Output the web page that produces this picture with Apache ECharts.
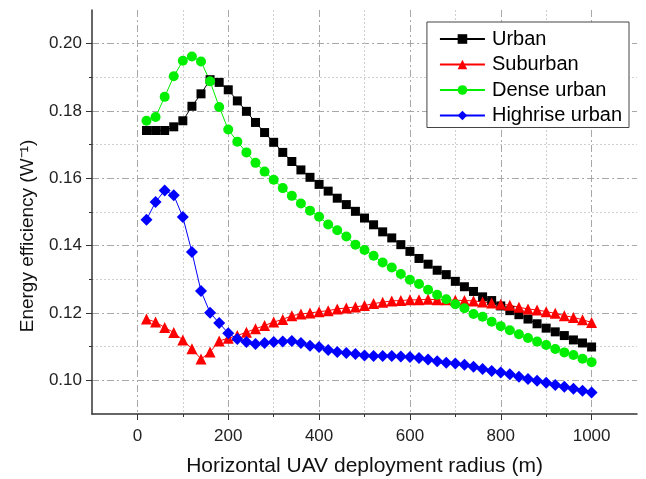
<!DOCTYPE html>
<html>
<head>
<meta charset="utf-8">
<script src="https://cdn.jsdelivr.net/npm/echarts@6/dist/echarts.min.js"></script>
<style>
  html, body { margin: 0; padding: 0; background: #fff; }
  #main { width: 646px; height: 479px; }
</style>
</head>
<body>
<div id="main"></div>
<script>
// x: horizontal UAV deployment radius (m), 20..1000 step 20
var radius = [20, 40, 60, 80, 100, 120, 140, 160, 180, 200,
  220, 240, 260, 280, 300, 320, 340, 360, 380, 400,
  420, 440, 460, 480, 500, 520, 540, 560, 580, 600,
  620, 640, 660, 680, 700, 720, 740, 760, 780, 800,
  820, 840, 860, 880, 900, 920, 940, 960, 980, 1000];

var urban = [0.1742, 0.1742, 0.1742, 0.1753, 0.1771, 0.1814, 0.1851, 0.1893, 0.1885, 0.1863,
  0.1830, 0.1799, 0.1766, 0.1736, 0.1707, 0.1677, 0.1650, 0.1625, 0.1603, 0.1582,
  0.1562, 0.1541, 0.1522, 0.1502, 0.1482, 0.1462, 0.1441, 0.1423, 0.1403, 0.1383,
  0.1362, 0.1345, 0.1327, 0.1314, 0.1294, 0.1278, 0.1264, 0.1248, 0.1237, 0.1221,
  0.1207, 0.1195, 0.1182, 0.1168, 0.1155, 0.1144, 0.1133, 0.1120, 0.1111, 0.1099];

var suburban = [0.1182, 0.1173, 0.1157, 0.1142, 0.1120, 0.1094, 0.1063, 0.1084, 0.1117, 0.1125,
  0.1133, 0.1143, 0.1153, 0.1163, 0.1173, 0.1181, 0.1192, 0.1197, 0.1200, 0.1204,
  0.1207, 0.1212, 0.1215, 0.1218, 0.1222, 0.1228, 0.1232, 0.1236, 0.1237, 0.1239,
  0.1239, 0.1241, 0.1239, 0.1239, 0.1238, 0.1237, 0.1236, 0.1233, 0.1230, 0.1226,
  0.1223, 0.1217, 0.1212, 0.1209, 0.1204, 0.1199, 0.1192, 0.1187, 0.1180, 0.1172];

var denseUrban = [0.1771, 0.1782, 0.1842, 0.1903, 0.1949, 0.1962, 0.1947, 0.1888, 0.1812, 0.1745,
  0.1709, 0.1677, 0.1646, 0.1620, 0.1596, 0.1571, 0.1548, 0.1525, 0.1504, 0.1486,
  0.1463, 0.1446, 0.1427, 0.1403, 0.1387, 0.1370, 0.1350, 0.1335, 0.1316, 0.1299,
  0.1286, 0.1269, 0.1254, 0.1241, 0.1226, 0.1214, 0.1197, 0.1189, 0.1174, 0.1161,
  0.1149, 0.1137, 0.1126, 0.1115, 0.1105, 0.1093, 0.1083, 0.1075, 0.1064, 0.1054];

var highrise = [0.1477, 0.1530, 0.1564, 0.1550, 0.1485, 0.1381, 0.1265, 0.1201, 0.1170, 0.1140,
  0.1123, 0.1114, 0.1108, 0.1111, 0.1114, 0.1115, 0.1117, 0.1111, 0.1103, 0.1099,
  0.1090, 0.1084, 0.1081, 0.1078, 0.1074, 0.1072, 0.1072, 0.1072, 0.1071, 0.1069,
  0.1066, 0.1062, 0.1057, 0.1052, 0.1050, 0.1046, 0.1040, 0.1034, 0.1028, 0.1023,
  0.1018, 0.1011, 0.1004, 0.0999, 0.0993, 0.0986, 0.0981, 0.0975, 0.0969, 0.0964];

// tick labels
var xMajor = [0, 200, 400, 600, 800, 1000];
var xMinor = [100, 300, 500, 700, 900];
var yMajor = [0.10, 0.12, 0.14, 0.16, 0.18, 0.20];
var yMinor = [0.11, 0.13, 0.15, 0.17, 0.19];

var FONT = 'Liberation Sans, Arial, sans-serif';

function pairs(ys) {
  return radius.map(function (x, i) { return [x, ys[i]]; });
}

var myChart = echarts.init(document.getElementById('main'));

var majorGrid = { show: true, lineStyle: { color: '#a8a8a8', width: 1, type: [7, 3, 2, 3] } };
var minorGrid = { show: true, lineStyle: { color: '#d0d0d0', width: 1, type: [2, 2] } };

myChart.setOption({
  animation: false,
  backgroundColor: '#fff',
  grid: { left: 92, right: 9, top: 10, bottom: 65, outerBoundsMode: 'none' },
  legend: {
    orient: 'vertical',
    top: 22,
    right: 17,
    backgroundColor: '#fff',
    borderColor: '#444',
    borderWidth: 1,
    padding: [7, 7, 2, 12],
    itemWidth: 45,
    itemHeight: 12,
    itemGap: 5.5,
    textStyle: { fontFamily: FONT, fontSize: 20, color: '#000', padding: [0, 0, 0, 2] },
    data: ['Urban', 'Suburban', 'Dense urban', 'Highrise urban']
  },
  xAxis: [
    {
      type: 'value', min: -100, max: 1100,
      name: 'Horizontal UAV deployment radius (m)',
      nameLocation: 'middle', nameGap: 42,
      nameTextStyle: { fontFamily: FONT, fontSize: 21, color: '#111' },
      axisLine: { show: true, onZero: false, lineStyle: { color: '#333', width: 1.5 } },
      axisTick: { show: true, length: 6, customValues: xMajor, lineStyle: { color: '#333' } },
      axisLabel: {
        customValues: xMajor, fontFamily: FONT, fontSize: 17, color: '#222', margin: 14,
        formatter: function (v) { return String(v); }
      },
      splitLine: majorGrid
    },
    {
      type: 'value', min: -100, max: 1100, position: 'bottom',
      axisLine: { show: false, onZero: false },
      axisTick: { show: true, length: 3, customValues: xMinor, lineStyle: { color: '#333' } },
      axisLabel: { show: false },
      splitLine: Object.assign({}, minorGrid)
    }
  ],
  yAxis: [
    {
      type: 'value', min: 0.09, max: 0.21,
      name: 'Energy efficiency (W\u207B\u00B9)',
      nameLocation: 'middle', nameGap: 55,
      nameTextStyle: { fontFamily: FONT, fontSize: 19, color: '#111', padding: [0, 48, 0, 0] },
      axisLine: { show: true, onZero: false, lineStyle: { color: '#333', width: 1.5 } },
      axisTick: { show: true, length: 6, customValues: yMajor, lineStyle: { color: '#333' } },
      axisLabel: {
        customValues: yMajor, fontFamily: FONT, fontSize: 17, color: '#222', margin: 10,
        formatter: function (v) { return v.toFixed(2); }
      },
      splitLine: majorGrid
    },
    {
      type: 'value', min: 0.09, max: 0.21, position: 'left',
      axisLine: { show: false, onZero: false },
      axisTick: { show: true, length: 3, customValues: yMinor, lineStyle: { color: '#333' } },
      axisLabel: { show: false },
      splitLine: Object.assign({}, minorGrid)
    }
  ],
  series: [
    {
      name: 'Urban', type: 'line', data: pairs(urban),
      symbol: 'rect', symbolSize: 9,
      itemStyle: { color: '#000' }, lineStyle: { color: '#000', width: 1 }
    },
    {
      name: 'Suburban', type: 'line', data: pairs(suburban),
      symbol: 'triangle', symbolSize: 11,
      itemStyle: { color: '#ff0000' }, lineStyle: { color: '#ff0000', width: 1 }
    },
    {
      name: 'Dense urban', type: 'line', data: pairs(denseUrban),
      symbol: 'circle', symbolSize: 10,
      itemStyle: { color: '#00ee00' }, lineStyle: { color: '#00ee00', width: 1 }
    },
    {
      name: 'Highrise urban', type: 'line', data: pairs(highrise),
      symbol: 'diamond', symbolSize: 12,
      itemStyle: { color: '#0000ff' }, lineStyle: { color: '#0000ff', width: 1 }
    }
  ]
});
</script>
</body>
</html>
